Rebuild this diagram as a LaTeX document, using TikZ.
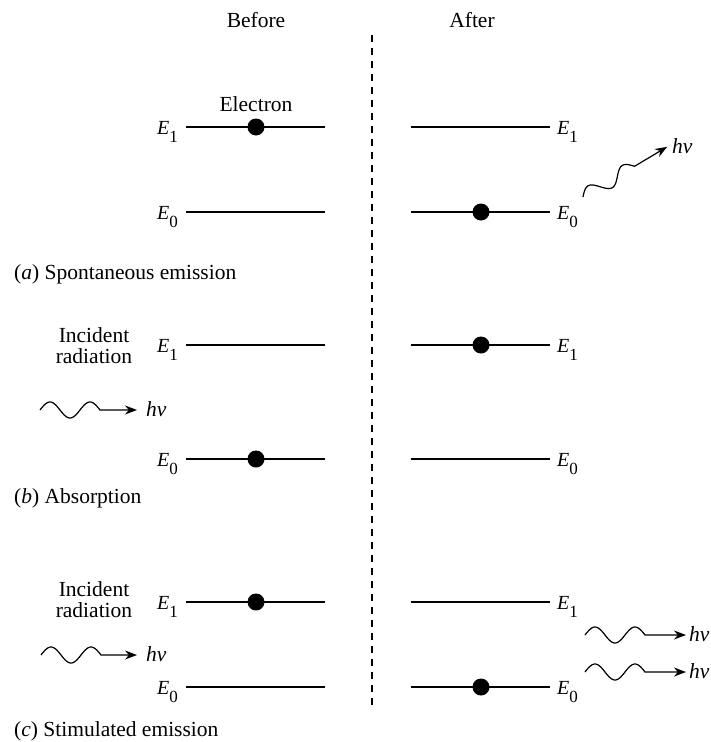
\documentclass[tikz,border=0pt]{standalone}
\usepackage{fontspec}
\setmainfont{Liberation Serif}
\usetikzlibrary{arrows.meta}
\newcommand{\Elab}[1]{\textit{E}\raisebox{-8pt}{\fontsize{17}{20}\selectfont #1}}
\newcommand{\hnu}{\textit{hν}}
\newcommand{\wavy}[6]{% name, x, y, angle, total length, amplitude
  \begin{scope}[shift={(#2,#3)},rotate=#4]
    \coordinate (#1s) at (0,0);
    \coordinate (#1e) at (#5,0);
    \draw[wave] plot[domain=0:60,samples=61,smooth] (\x,{-#6*sin(9*\x)}) -- (#1e);
  \end{scope}}
\begin{document}
\begin{tikzpicture}[x=1pt,y=-1pt,
  lvl/.style={line width=1.8pt},
  dot/.style={circle,fill=black,inner sep=0pt,minimum size=17pt},
  lbl/.style={font=\fontsize{21.5}{25}\selectfont, inner sep=0pt},
  elbl/.style={font=\fontsize{20}{24}\selectfont, inner sep=0pt},
  wave/.style={line width=1.2pt,-{Stealth[length=12pt,width=9pt]}},
  sep/.style={line width=1.2pt,dash pattern=on 7pt off 6pt},
]
\useasboundingbox (0,0) rectangle (710,742);

% headings
\node[lbl] (before) at (256,20) {Before};
\node[lbl] (after) at (472,20) {After};

% separator
\coordinate (sepT) at (372,35);
\coordinate (sepB) at (372,705);
\draw[sep] (sepT) -- (sepB);

% ---------- (a) ----------
\coordinate (aL1a) at (186,127); \coordinate (aL1b) at (325,127);
\coordinate (aL0a) at (186,212); \coordinate (aL0b) at (325,212);
\coordinate (aR1a) at (411,127); \coordinate (aR1b) at (550,127);
\coordinate (aR0a) at (411,212); \coordinate (aR0b) at (550,212);
\draw[lvl] (aL1a) -- (aL1b);
\draw[lvl] (aL0a) -- (aL0b);
\draw[lvl] (aR1a) -- (aR1b);
\draw[lvl] (aR0a) -- (aR0b);
\node[dot] (adotL) at (256,127) {};
\node[dot] (adotR) at (481,212) {};
\node[lbl] (electron) at (256,104) {Electron};
\node[elbl,anchor=base east] (aE1L) at (178,134) {\Elab{1}};
\node[elbl,anchor=base east] (aE0L) at (178,219) {\Elab{0}};
\node[elbl,anchor=base west] (aE1R) at (557,134) {\Elab{1}};
\node[elbl,anchor=base west] (aE0R) at (557,219) {\Elab{0}};
\wavy{wa}{583}{197}{30.8}{98}{7}
\node[lbl,anchor=base west] (ahnu) at (672,153) {\hnu};
\node[lbl,anchor=base west] (capa) at (14,279) {(\textit{a}) Spontaneous emission};

% ---------- (b) ----------
\coordinate (bL1a) at (186,345); \coordinate (bL1b) at (325,345);
\coordinate (bL0a) at (186,459); \coordinate (bL0b) at (325,459);
\coordinate (bR1a) at (411,345); \coordinate (bR1b) at (550,345);
\coordinate (bR0a) at (411,459); \coordinate (bR0b) at (550,459);
\draw[lvl] (bL1a) -- (bL1b);
\draw[lvl] (bL0a) -- (bL0b);
\draw[lvl] (bR1a) -- (bR1b);
\draw[lvl] (bR0a) -- (bR0b);
\node[dot] (bdotL) at (256,459) {};
\node[dot] (bdotR) at (481,345) {};
\node[lbl,align=center,font=\fontsize{21.5}{21}\selectfont] (bInc) at (94,346) {Incident\\radiation};
\node[elbl,anchor=base east] (bE1L) at (178,352) {\Elab{1}};
\node[elbl,anchor=base east] (bE0L) at (178,466) {\Elab{0}};
\node[elbl,anchor=base west] (bE1R) at (557,352) {\Elab{1}};
\node[elbl,anchor=base west] (bE0R) at (557,466) {\Elab{0}};
\wavy{wb}{40}{410}{0}{97}{8}
\node[lbl,anchor=base west] (bhnu) at (146,416) {\hnu};
\node[lbl,anchor=base west] (capb) at (14,503) {(\textit{b}) Absorption};

% ---------- (c) ----------
\coordinate (cL1a) at (186,602); \coordinate (cL1b) at (325,602);
\coordinate (cL0a) at (186,687); \coordinate (cL0b) at (325,687);
\coordinate (cR1a) at (411,602); \coordinate (cR1b) at (550,602);
\coordinate (cR0a) at (411,687); \coordinate (cR0b) at (550,687);
\draw[lvl] (cL1a) -- (cL1b);
\draw[lvl] (cL0a) -- (cL0b);
\draw[lvl] (cR1a) -- (cR1b);
\draw[lvl] (cR0a) -- (cR0b);
\node[dot] (cdotL) at (256,602) {};
\node[dot] (cdotR) at (481,687) {};
\node[lbl,align=center,font=\fontsize{21.5}{21}\selectfont] (cInc) at (94,600) {Incident\\radiation};
\node[elbl,anchor=base east] (cE1L) at (178,609) {\Elab{1}};
\node[elbl,anchor=base east] (cE0L) at (178,694) {\Elab{0}};
\node[elbl,anchor=base west] (cE1R) at (557,609) {\Elab{1}};
\node[elbl,anchor=base west] (cE0R) at (557,694) {\Elab{0}};
\wavy{wc}{41}{655}{0}{96}{8}
\node[lbl,anchor=base west] (chnu) at (146,661) {\hnu};
\wavy{wd}{585}{635}{0}{101}{8}
\node[lbl,anchor=base west] (dhnu) at (689,641) {\hnu};
\wavy{we}{585}{672}{0}{101}{8}
\node[lbl,anchor=base west] (ehnu) at (689,678) {\hnu};
\node[lbl,anchor=base west] (capc) at (14,736) {(\textit{c}) Stimulated emission};
\end{tikzpicture}
\end{document}
